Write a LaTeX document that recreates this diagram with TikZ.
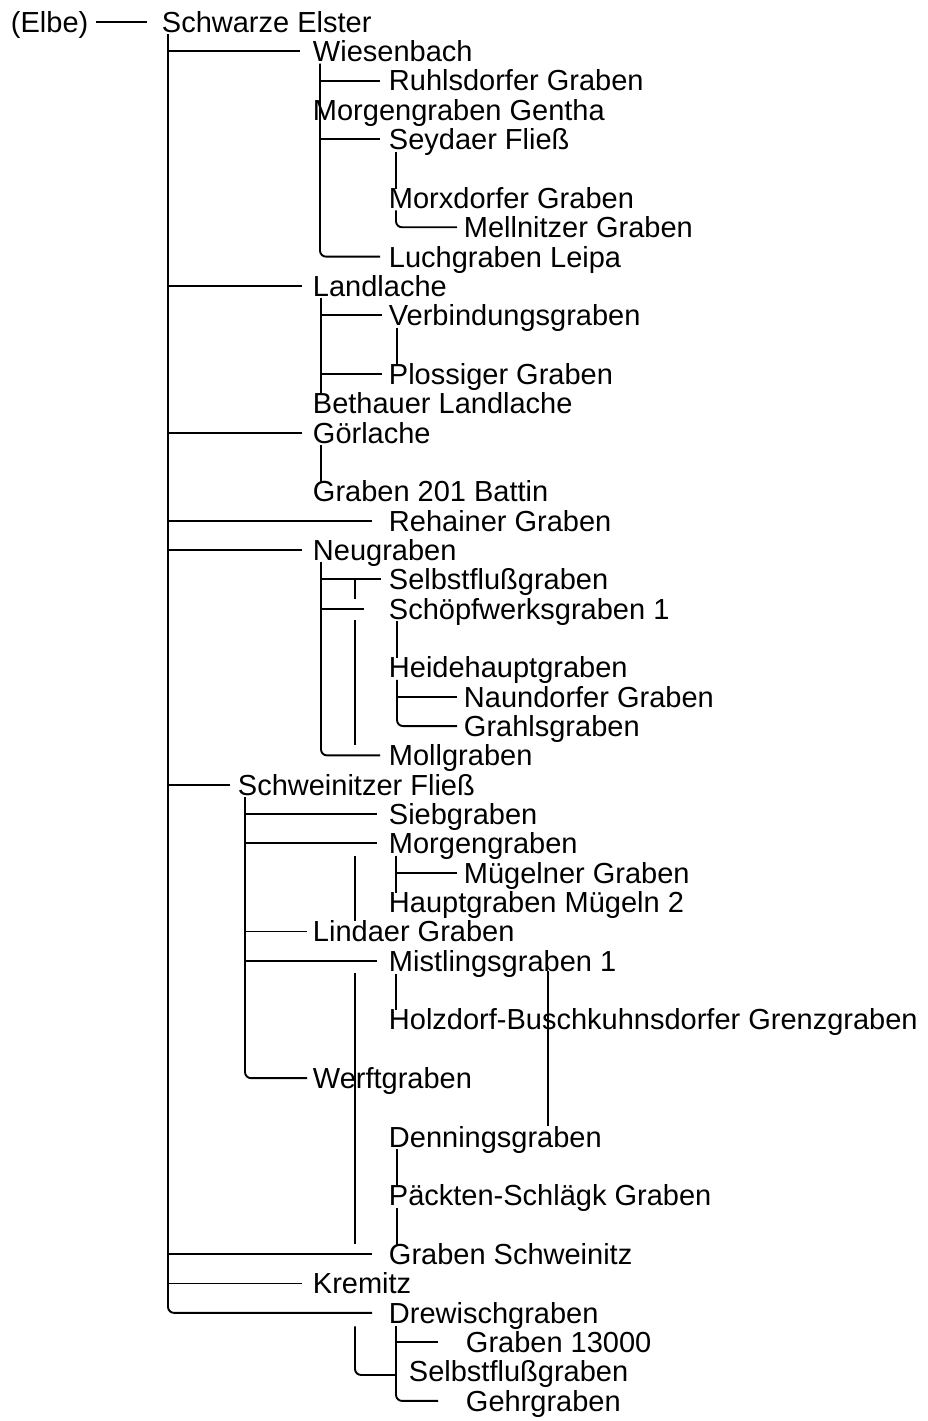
\documentclass[tikz,border=0pt]{standalone}
\usepackage{fontspec}
\setmainfont{Liberation Sans}
\usetikzlibrary{calc}
\newcommand\rowy[1]{32.3+29.34*#1}
\begin{document}
\begin{tikzpicture}[x=1pt,y=-1pt,
  lbl/.style={anchor=base west,inner sep=0pt,font=\fontsize{29}{30}\selectfont},
  every path/.style={line width=1.9pt,line cap=butt},
  rc/.style={rounded corners=6pt}]
\useasboundingbox[fill=white] (0,0) rectangle (927,1421);
% nodes
\node[lbl] (elbe) at (10,{\rowy{0}}) {(Elbe)};
\node[lbl] (se)   at (161,{\rowy{0}}) {Schwarze Elster};
\node[lbl] (wb)   at (312,{\rowy{1}}) {Wiesenbach};
\node[lbl] (rg)   at (388,{\rowy{2}}) {Ruhlsdorfer Graben};
\node[lbl] (mgg)  at (312,{\rowy{3}}) {Morgengraben Gentha};
\node[lbl] (sf)   at (388,{\rowy{4}}) {Seydaer Fließ};
\node[lbl] (mxg)  at (388,{\rowy{6}}) {Morxdorfer Graben};
\node[lbl] (mlg)  at (463,{\rowy{7}}) {Mellnitzer Graben};
\node[lbl] (lgl)  at (388,{\rowy{8}}) {Luchgraben Leipa};
\node[lbl] (ll)   at (312,{\rowy{9}}) {Landlache};
\node[lbl] (vg)   at (388,{\rowy{10}}) {Verbindungsgraben};
\node[lbl] (pg)   at (388,{\rowy{12}}) {Plossiger Graben};
\node[lbl] (bl)   at (312,{\rowy{13}}) {Bethauer Landlache};
\node[lbl] (gl)   at (312,{\rowy{14}}) {Görlache};
\node[lbl] (gb)   at (312,{\rowy{16}}) {Graben 201 Battin};
\node[lbl] (rhg)  at (388,{\rowy{17}}) {Rehainer Graben};
\node[lbl] (ng)   at (312,{\rowy{18}}) {Neugraben};
\node[lbl] (sfg)  at (388,{\rowy{19}}) {Selbstflußgraben};
\node[lbl] (swg)  at (388,{\rowy{20}}) {Schöpfwerksgraben 1};
\node[lbl] (hhg)  at (388,{\rowy{22}}) {Heidehauptgraben};
\node[lbl] (ndg)  at (463,{\rowy{23}}) {Naundorfer Graben};
\node[lbl] (grg)  at (463,{\rowy{24}}) {Grahlsgraben};
\node[lbl] (mog)  at (388,{\rowy{25}}) {Mollgraben};
\node[lbl] (swf)  at (237,{\rowy{26}}) {Schweinitzer Fließ};
\node[lbl] (sbg)  at (388,{\rowy{27}}) {Siebgraben};
\node[lbl] (mg)   at (388,{\rowy{28}}) {Morgengraben};
\node[lbl] (mug)  at (463,{\rowy{29}}) {Mügelner Graben};
\node[lbl] (hgm)  at (388,{\rowy{30}}) {Hauptgraben Mügeln 2};
\node[lbl] (ldg)  at (312,{\rowy{31}}) {Lindaer Graben};
\node[lbl] (mig)  at (388,{\rowy{32}}) {Mistlingsgraben 1};
\node[lbl] (hbg)  at (388,{\rowy{34}}) {Holzdorf-Buschkuhnsdorfer Grenzgraben};
\node[lbl] (wfg)  at (312,{\rowy{36}}) {Werftgraben};
\node[lbl] (dng)  at (388,{\rowy{38}}) {Denningsgraben};
\node[lbl] (psg)  at (388,{\rowy{40}}) {Päckten-Schlägk Graben};
\node[lbl] (gs)   at (388,{\rowy{42}}) {Graben Schweinitz};
\node[lbl] (km)   at (312,{\rowy{43}}) {Kremitz};
\node[lbl] (dwg)  at (388,{\rowy{44}}) {Drewischgraben};
\node[lbl] (g13)  at (465,{\rowy{45}}) {Graben 13000};
\node[lbl] (sfg2) at (408,{\rowy{46}}) {Selbstflußgraben};
\node[lbl] (ghg)  at (465,{\rowy{47}}) {Gehrgraben};
% (Elbe) -- Schwarze Elster
\draw ($(elbe.base west)+(86,-10.4)$) -- ($(se.base west)+(-14,-10.4)$);
% trunk of Schwarze Elster
\draw ($(se.base west)+(7,2)$) |- ($(wb.base west)+(-12,-10.4)$);
\draw ($(se.base west)+(7,2)$) |- ($(ll.base west)+(-10,-10.4)$);
\draw ($(se.base west)+(7,2)$) |- ($(gl.base west)+(-10,-10.4)$);
\draw ($(se.base west)+(7,2)$) |- ($(rhg.base west)+(-16,-10.4)$);
\draw ($(se.base west)+(7,2)$) |- ($(ng.base west)+(-10,-10.4)$);
\draw ($(se.base west)+(7,2)$) |- ($(swf.base west)+(-7,-10.4)$);
\draw ($(se.base west)+(7,2)$) |- ($(gs.base west)+(-16,-10.4)$);
\draw ($(se.base west)+(7,2)$) |- ($(km.base west)+(-10,-10.4)$);
\draw[rc] ($(se.base west)+(7,2)$) |- ($(dwg.base west)+(-16,-10.4)$);
% Wiesenbach
\draw ($(wb.base west)+(8,2)$) |- ($(rg.base west)+(-8,-10.4)$);
\draw ($(wb.base west)+(8,2)$) |- ($(sf.base west)+(-8,-10.4)$);
\draw[rc] ($(wb.base west)+(8,2)$) |- ($(lgl.base west)+(-8,-10.4)$);
\draw ($(sf.base west)+(8,2)$) -- ($(mxg.base west)+(8,-19)$);
\draw[rc] ($(mxg.base west)+(8,2)$) |- ($(mlg.base west)+(-6,-10.4)$);
% Landlache
\draw ($(ll.base west)+(9,2)$) |- ($(vg.base west)+(-6,-10.4)$);
\draw ($(ll.base west)+(9,2)$) |- ($(pg.base west)+(-6,-10.4)$);
\draw ($(ll.base west)+(9,2)$) -- ($(bl.base west)+(9,-20)$);
\draw ($(vg.base west)+(9,2)$) -- ($(pg.base west)+(9,-19)$);
% Goerlache
\draw ($(gl.base west)+(9,2)$) -- ($(gb.base west)+(9,-20)$);
% Neugraben
\draw ($(ng.base west)+(9,2)$) |- ($(sfg.base west)+(-7,-10.4)$);
\draw ($(ng.base west)+(9,2)$) |- ($(swg.base west)+(-24,-10.4)$);
\draw[rc] ($(ng.base west)+(9,2)$) |- ($(mog.base west)+(-8,-10.4)$);
\draw ($(sfg.base west)+(-33,-10.4)$) -- ($(swg.base west)+(-33,-20)$);
\draw ($(swg.base west)+(-33,1)$) -- ($(mog.base west)+(-33,-20.5)$);
\draw ($(swg.base west)+(9,2)$) -- ($(hhg.base west)+(9,-20)$);
\draw ($(hhg.base west)+(9,2)$) |- ($(ndg.base west)+(-6,-10.4)$);
\draw[rc] ($(hhg.base west)+(9,2)$) |- ($(grg.base west)+(-6,-10.4)$);
% Schweinitzer Fliess
\draw ($(swf.base west)+(8,2)$) |- ($(sbg.base west)+(-11,-10.4)$);
\draw ($(swf.base west)+(8,2)$) |- ($(mg.base west)+(-11,-10.4)$);
\draw ($(swf.base west)+(8,2)$) |- ($(ldg.base west)+(-5,-10.4)$);
\draw ($(swf.base west)+(8,2)$) |- ($(mig.base west)+(-11,-10.4)$);
\draw[rc] ($(swf.base west)+(8,2)$) |- ($(wfg.base west)+(-5,-10.4)$);
\draw ($(mg.base west)+(8,2)$) |- ($(mug.base west)+(-6,-10.4)$);
\draw ($(mg.base west)+(8,2)$) -- ($(hgm.base west)+(8,-20)$);
\draw ($(mg.base west)+(-33,2)$) -- ($(ldg.base west)+(43,-21)$);
\draw ($(mig.base west)+(8,3)$) -- ($(hbg.base west)+(8,-20)$);
\draw ($(mig.base west)+(160,0)$) -- ($(dng.base west)+(160,-21)$);
\draw ($(mig.base west)+(-33,2)$) -- ($(gs.base west)+(-33,-20.5)$);
\draw ($(dng.base west)+(9,2)$) -- ($(psg.base west)+(9,-20)$);
\draw ($(psg.base west)+(9,2)$) -- ($(gs.base west)+(9,-20)$);
% Drewischgraben
\draw ($(dwg.base west)+(8,3)$) |- ($(g13.base west)+(-27,-10.4)$);
\draw[rc] ($(dwg.base west)+(8,3)$) |- ($(ghg.base west)+(-27,-10.4)$);
\draw[rc] ($(dwg.base west)+(-33,3)$) |- ($(sfg2.base west)+(-12,-7)$);
\end{tikzpicture}
\end{document}
